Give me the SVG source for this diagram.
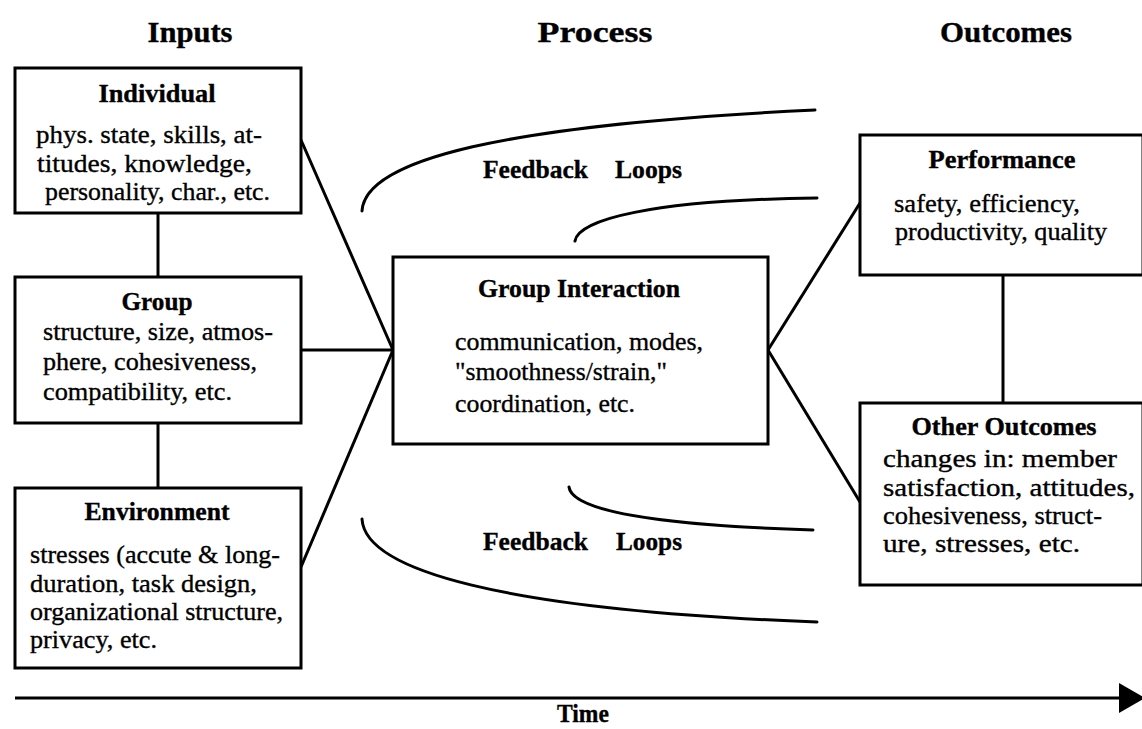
<svg xmlns="http://www.w3.org/2000/svg" width="1142" height="729" viewBox="0 0 1142 729">
<style>
  .box { fill: #ffffff; stroke: #000; stroke-width: 3; }
  .ln { fill: none; stroke: #000; stroke-width: 3; }
  .fb { fill: none; stroke: #000; stroke-width: 3; stroke-linecap: round; }
  text { font-family: "Liberation Serif", "Times New Roman", serif; fill: #000; stroke: #000; stroke-width: 0.35; }
  .hd { font-size: 30px; font-weight: bold; text-anchor: middle; }
  .tt { font-size: 25px; font-weight: bold; text-anchor: middle; }
  .bd { font-size: 26px; }
  .fl { font-size: 25px; font-weight: bold; }
</style>
<rect width="1142" height="729" fill="#ffffff" stroke="none"/>

<g id="headings">
  <text class="hd" x="190" y="42" textLength="85" lengthAdjust="spacingAndGlyphs">Inputs</text>
  <text class="hd" x="595" y="42" textLength="115" lengthAdjust="spacingAndGlyphs">Process</text>
  <text class="hd" x="1006" y="42" textLength="132" lengthAdjust="spacingAndGlyphs">Outcomes</text>
</g>

<g id="connectors">
  <line class="ln" x1="301" y1="140" x2="393" y2="350"/>
  <line class="ln" x1="301" y1="350" x2="393" y2="350"/>
  <line class="ln" x1="301" y1="567" x2="393" y2="350"/>
  <line class="ln" x1="768" y1="350" x2="860" y2="203"/>
  <line class="ln" x1="768" y1="350" x2="860" y2="502"/>
  <line class="ln" x1="158" y1="213" x2="158" y2="277"/>
  <line class="ln" x1="158" y1="423" x2="158" y2="488"/>
  <line class="ln" x1="1003" y1="275" x2="1003" y2="402"/>
  <path class="fb" d="M362,211 C365,160 500,125 815,110"/>
  <path class="fb" d="M575,241 C578,220 650,200 817,198"/>
  <path class="fb" d="M569,487 C572,510 650,525 813,530"/>
  <path class="fb" d="M362,519 C365,570 500,610 817,622"/>
</g>

<g id="feedback-top">
  <text class="fl" x="483" y="178" textLength="105" lengthAdjust="spacingAndGlyphs">Feedback</text>
  <text class="fl" x="615" y="178" textLength="67" lengthAdjust="spacingAndGlyphs">Loops</text>
</g>
<g id="feedback-bottom">
  <text class="fl" x="483" y="550" textLength="105" lengthAdjust="spacingAndGlyphs">Feedback</text>
  <text class="fl" x="616" y="550" textLength="66" lengthAdjust="spacingAndGlyphs">Loops</text>
</g>

<g id="individual">
  <rect class="box" x="15" y="68" width="286" height="145"/>
  <text class="tt" x="157" y="102" textLength="117" lengthAdjust="spacingAndGlyphs">Individual</text>
  <text class="bd" x="36" y="143" textLength="226" lengthAdjust="spacingAndGlyphs">phys. state, skills, at-</text>
  <text class="bd" x="37" y="172" textLength="215" lengthAdjust="spacingAndGlyphs">titudes, knowledge,</text>
  <text class="bd" x="45" y="200" textLength="225" lengthAdjust="spacingAndGlyphs">personality, char., etc.</text>
</g>

<g id="group">
  <rect class="box" x="15" y="277" width="286" height="146"/>
  <text class="tt" x="157" y="310" textLength="71" lengthAdjust="spacingAndGlyphs">Group</text>
  <text class="bd" x="43" y="340" textLength="230" lengthAdjust="spacingAndGlyphs">structure, size, atmos-</text>
  <text class="bd" x="43" y="370" textLength="214" lengthAdjust="spacingAndGlyphs">phere, cohesiveness,</text>
  <text class="bd" x="43" y="400" textLength="189" lengthAdjust="spacingAndGlyphs">compatibility, etc.</text>
</g>

<g id="environment">
  <rect class="box" x="15" y="488" width="286" height="180"/>
  <text class="tt" x="157" y="520" textLength="145" lengthAdjust="spacingAndGlyphs">Environment</text>
  <text class="bd" x="30" y="563" textLength="250" lengthAdjust="spacingAndGlyphs">stresses (accute &amp; long-</text>
  <text class="bd" x="30" y="592" textLength="227" lengthAdjust="spacingAndGlyphs">duration, task design,</text>
  <text class="bd" x="30" y="620" textLength="253" lengthAdjust="spacingAndGlyphs">organizational structure,</text>
  <text class="bd" x="30" y="648" textLength="127" lengthAdjust="spacingAndGlyphs">privacy, etc.</text>
</g>

<g id="group-interaction">
  <rect class="box" x="393" y="257" width="375" height="187"/>
  <text class="tt" x="579" y="297" textLength="202" lengthAdjust="spacingAndGlyphs">Group Interaction</text>
  <text class="bd" x="455" y="350" textLength="248" lengthAdjust="spacingAndGlyphs">communication, modes,</text>
  <text class="bd" x="455" y="380" textLength="212" lengthAdjust="spacingAndGlyphs">"smoothness/strain,"</text>
  <text class="bd" x="455" y="412" textLength="180" lengthAdjust="spacingAndGlyphs">coordination, etc.</text>
</g>

<g id="performance">
  <rect class="box" x="860" y="135" width="283" height="140"/>
  <text class="tt" x="1002" y="168" textLength="147" lengthAdjust="spacingAndGlyphs">Performance</text>
  <text class="bd" x="894" y="212" textLength="186" lengthAdjust="spacingAndGlyphs">safety, efficiency,</text>
  <text class="bd" x="895" y="240" textLength="212" lengthAdjust="spacingAndGlyphs">productivity, quality</text>
</g>

<g id="other-outcomes">
  <rect class="box" x="860" y="403" width="283" height="182"/>
  <text class="tt" x="1004" y="435" textLength="185" lengthAdjust="spacingAndGlyphs">Other Outcomes</text>
  <text class="bd" x="883" y="467" textLength="234" lengthAdjust="spacingAndGlyphs">changes in: member</text>
  <text class="bd" x="883" y="496" textLength="252" lengthAdjust="spacingAndGlyphs">satisfaction, attitudes,</text>
  <text class="bd" x="883" y="524" textLength="219" lengthAdjust="spacingAndGlyphs">cohesiveness, struct-</text>
  <text class="bd" x="883" y="552" textLength="197" lengthAdjust="spacingAndGlyphs">ure, stresses, etc.</text>
</g>

<g id="time-axis">
  <line class="ln" x1="15" y1="698" x2="1122" y2="698"/>
  <polygon points="1119,683 1145,698 1119,713" fill="#000"/>
  <text class="tt" x="583" y="722" textLength="52" lengthAdjust="spacingAndGlyphs">Time</text>
</g>
</svg>
